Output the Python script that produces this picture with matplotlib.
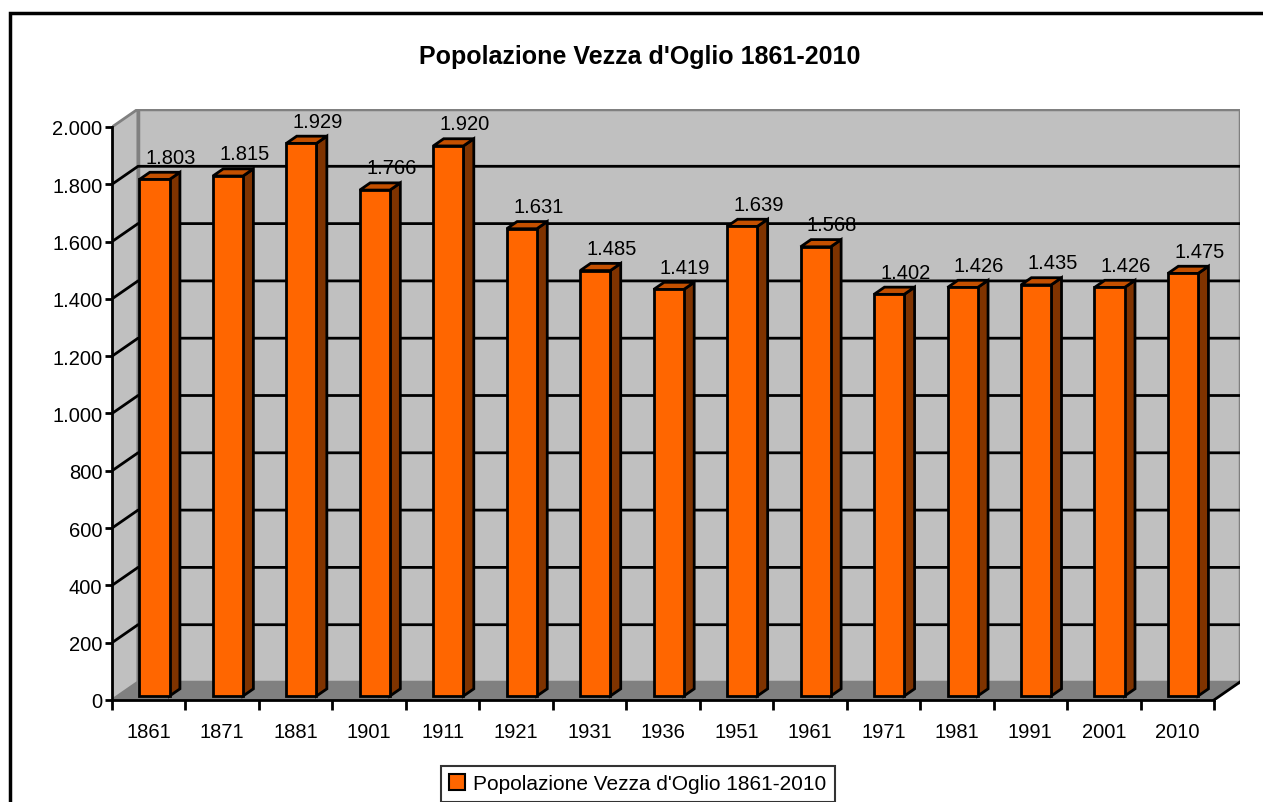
import matplotlib
matplotlib.use("Agg")
import matplotlib.pyplot as plt
from matplotlib.patches import Polygon, Rectangle

plt.rcParams['font.family'] = ['Liberation Sans', 'DejaVu Sans']

TITLE = "Popolazione Vezza d'Oglio 1861-2010"
years = ['1861', '1871', '1881', '1901', '1911', '1921', '1931', '1936',
         '1951', '1961', '1971', '1981', '1991', '2001', '2010']
population = [1803, 1815, 1929, 1766, 1920, 1631, 1485, 1419,
              1639, 1568, 1402, 1426, 1435, 1426, 1475]
yticks = list(range(0, 2001, 200))

# colours of the 3d excel look
FRONT = '#FF6600'
TOP = '#C45000'
SIDE = '#7F3300'
WALL = '#C0C0C0'
FLOOR = '#808080'

YMAX = 2000
DX = 0.354    # depth of the plot box, category units
DY = 62.8     # depth of the plot box, value units
F0, F1 = 0.22, 0.62   # bar depth, as fraction of box depth
W = 0.41


def proj(x, y, d):
    return (x + d * DX, y + d * DY)


def as_dots(v):
    return f"{v:,}".replace(",", ".")


fig = plt.figure(figsize=(12.63, 8.03), dpi=100)
ax = fig.add_axes([112 / 1263, 102 / 803, 1128 / 1263, 591 / 803])
n = len(years)
ax.set_xlim(0, n + DX)
ax.set_ylim(0, YMAX + DY)
ax.patch.set_alpha(0)

# walls and floor
ax.add_patch(Polygon([proj(0, 0, 0), proj(n, 0, 0), proj(n, 0, 1), proj(0, 0, 1)],
                     closed=True, fc=FLOOR, ec=FLOOR, lw=1, zorder=1))
ax.add_patch(Polygon([proj(0, 0, 0), proj(0, YMAX, 0), proj(0, YMAX, 1), proj(0, 0, 1)],
                     closed=True, fc=WALL, ec=FLOOR, lw=2, zorder=1))
ax.add_patch(Polygon([proj(0, 0, 1), proj(0, YMAX, 1), proj(n, YMAX, 1), proj(n, 0, 1)],
                     closed=True, fc=WALL, ec=FLOOR, lw=2.5, zorder=1))
for v in yticks[1:-1]:
    xs, ys = zip(proj(0, v, 0), proj(0, v, 1), proj(n, v, 1))
    ax.plot(xs, ys, color='black', lw=2, zorder=2, solid_capstyle='butt')
xs, ys = zip(proj(n, 0, 0), proj(n, 0, 1))
ax.plot(xs, ys, color='black', lw=2, zorder=2)

# bars
for i, v in enumerate(population):
    xl = i + 0.5 - W / 2
    xr = i + 0.5 + W / 2
    front = [proj(xl, 0, F0), proj(xl, v, F0), proj(xr, v, F0), proj(xr, 0, F0)]
    top = [proj(xl, v, F0), proj(xl, v, F1), proj(xr, v, F1), proj(xr, v, F0)]
    side = [proj(xr, 0, F0), proj(xr, v, F0), proj(xr, v, F1), proj(xr, 0, F1)]
    for pts, col in ((side, SIDE), (top, TOP), (front, FRONT)):
        ax.add_patch(Polygon(pts, closed=True, fc=col, ec='black', lw=2,
                             joinstyle='miter', zorder=3))
    lx, ly = proj(i + 0.5, v, F1)
    ax.annotate(as_dots(v), (lx + W / 2 * 0.4, ly), xytext=(0, 4),
                textcoords='offset points', ha='center', va='bottom',
                fontsize=14.5, zorder=4)

# axes
for s in ('top', 'right'):
    ax.spines[s].set_visible(False)
ax.spines['left'].set_bounds(0, YMAX)
ax.spines['bottom'].set_bounds(0, n)
ax.spines['left'].set_linewidth(2)
ax.spines['bottom'].set_linewidth(2)
ax.set_yticks(yticks)
ax.set_yticklabels([as_dots(v) for v in yticks])
ax.tick_params(axis='y', direction='out', length=5, width=2, labelsize=14.5, pad=2)
ax.set_xticks(range(n + 1))
ax.set_xticklabels([])
ax.tick_params(axis='x', which='major', direction='out', length=7, width=2)
ax.set_xticks([i + 0.5 for i in range(n)], minor=True)
ax.set_xticklabels(years, minor=True)
ax.tick_params(axis='x', which='minor', length=0, labelsize=14.5, pad=16)

fig.text(640 / 1263, 1 - 57 / 803, TITLE, ha='center', va='center',
         fontsize=18, fontweight='bold')

handle = Rectangle((0, 0), 1, 1, fc=FRONT, ec='black', lw=1.5)
leg = fig.legend([handle], [TITLE], loc='upper center',
                 bbox_to_anchor=(638 / 1263, 1 - 767 / 803), fontsize=15,
                 frameon=True, fancybox=False, handlelength=0.75, handleheight=0.75,
                 handletextpad=0.4, borderpad=0.4, borderaxespad=0)
leg.get_frame().set_edgecolor('black')
leg.get_frame().set_linewidth(1.5)

# chart area border, running off the right and bottom
fig.add_artist(Rectangle((10 / 1263, -0.2), 1.5, 1.2 - 14 / 803,
                         transform=fig.transFigure, fill=False, ec='black', lw=2.5))

fig.savefig('out.png', dpi=100)
